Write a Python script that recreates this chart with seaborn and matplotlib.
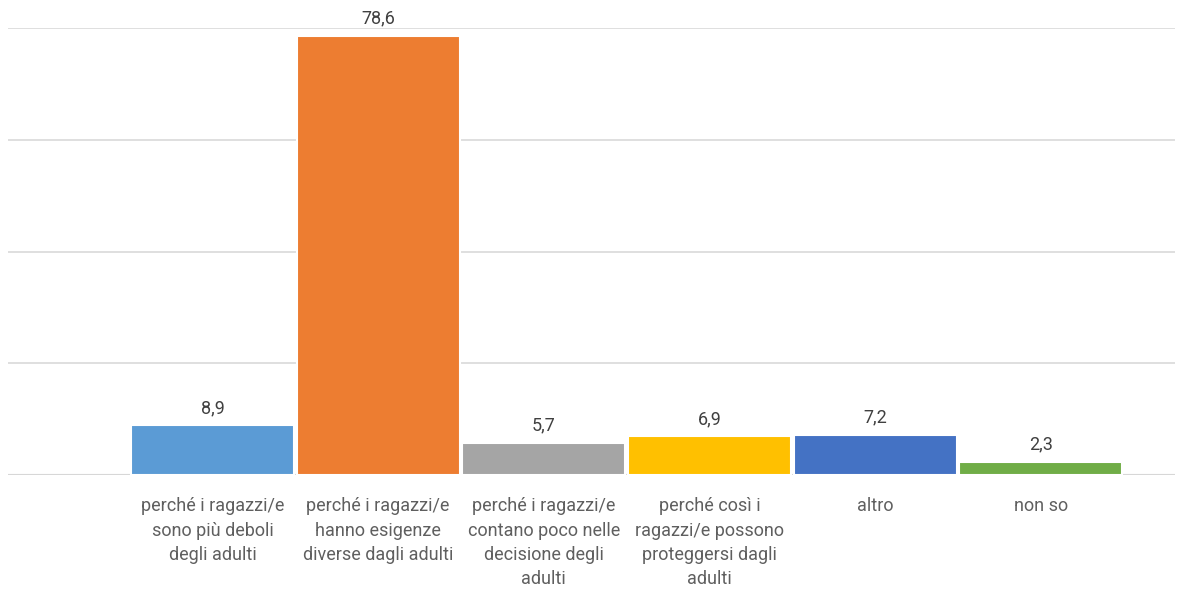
import matplotlib
matplotlib.use("Agg")
import matplotlib.pyplot as plt
import seaborn as sns
import pandas as pd

categories = [
    "perché i ragazzi/e\nsono più deboli\ndegli adulti",
    "perché i ragazzi/e\nhanno esigenze\ndiverse dagli adulti",
    "perché i ragazzi/e\ncontano poco nelle\ndecisione degli\nadulti",
    "perché così i\nragazzi/e possono\nproteggersi dagli\nadulti",
    "altro",
    "non so",
]
values = [8.9, 78.6, 5.7, 6.9, 7.2, 2.3]
value_labels = ["8,9", "78,6", "5,7", "6,9", "7,2", "2,3"]
colors = ["#5B9BD5", "#ED7D31", "#A5A5A5", "#FFC000", "#4472C4", "#70AD47"]

sns.set_theme(style="white")
plt.rcParams['font.family'] = ['Roboto', 'DejaVu Sans']

df = pd.DataFrame({"cat": categories, "val": values})

fig = plt.figure(figsize=(11.91, 5.89), dpi=100)
ax = fig.add_axes([8/1191, 1-475/589, (1175-8)/1191, (475-28)/589])

sns.barplot(data=df, x="cat", y="val", hue="cat", palette=colors, legend=False,
            width=0.985, edgecolor="white", linewidth=1.5, ax=ax, saturation=1)

ax.set_ylim(0, 80)
ax.set_xlim(-1.234, 5.81)
ax.set_yticks([0, 20, 40, 60, 80])
ax.yaxis.grid(True, color="#D9D9D9", linewidth=1.2)
ax.set_axisbelow(True)
ax.tick_params(axis="y", left=False, labelleft=False)
ax.tick_params(axis="x", bottom=False, pad=10)
for lbl in ax.get_xticklabels():
    lbl.set_fontsize(13)
    lbl.set_color("#5F5F5F")
    lbl.set_fontweight("normal")
    lbl.set_linespacing(1.45)
ax.set_xlabel("")
ax.set_ylabel("")
for s in ax.spines.values():
    s.set_visible(False)
ax.axhline(0, color="#D0D0D0", linewidth=1.5, zorder=0.5)

for i, (v, t) in enumerate(zip(values, value_labels)):
    ax.annotate(t, (i, v), xytext=(0, 6), textcoords="offset points",
                ha="center", va="bottom", fontsize=13, color="#404040",
                fontweight="normal")

fig.savefig("out.png", dpi=100)
